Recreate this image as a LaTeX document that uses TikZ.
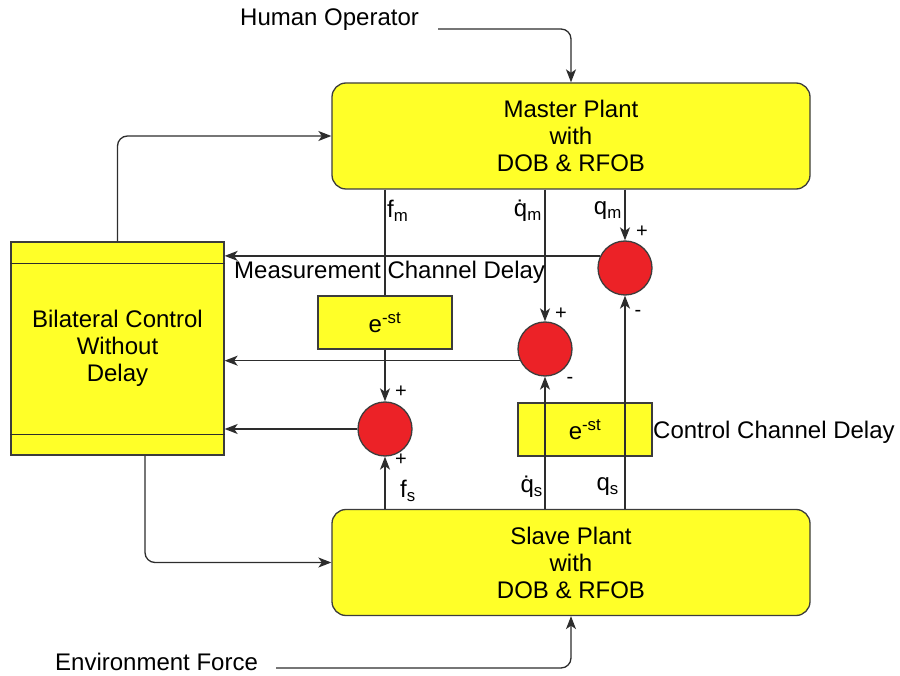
\documentclass[tikz,border=0pt]{standalone}
\usepackage{fontspec}
\setmainfont{Liberation Sans}
\usetikzlibrary{arrows.meta}
\definecolor{boxfill}{RGB}{255,255,40}
\definecolor{sumfill}{RGB}{236,34,39}
\definecolor{frameclr}{RGB}{60,60,60}
\definecolor{lineclr}{RGB}{45,45,45}
\tikzset{
	plant/.style={draw=frameclr, line width=1.3pt, fill=boxfill, rounded corners=14pt, minimum width=478pt, minimum height=106pt, align=center},
	ctrl/.style={draw=frameclr, line width=1.3pt, fill=boxfill, minimum width=213pt, minimum height=213pt, align=center},
	delay/.style={draw=frameclr, line width=1.3pt, fill=boxfill, minimum width=134pt, minimum height=53pt},
	sum/.style={circle, draw=frameclr, line width=1.3pt, fill=sumfill, minimum size=54pt, inner sep=0pt},
	sig/.style={draw=lineclr, line width=1.3pt},
	arr/.style={-{Stealth[length=13pt, width=10pt, inset=3.5pt]}},
	lbl/.style={inner sep=2pt},
	sign/.style={font=\fontsize{20}{20}\selectfont, inner sep=0pt},
}
\begin{document}
\begin{tikzpicture}[x=1pt, y=-1pt, font=\fontsize{24}{27}\selectfont]
	\useasboundingbox (0,0) rectangle (900,676);
	% blocks
	\node [plant] (master) at (571,136) {Master Plant\\with\\DOB \& RFOB};
	\node [plant] (slave) at (571,562.5) {Slave Plant\\with\\DOB \& RFOB};
	\node [ctrl] (bil) at (117.5,348.5) {Bilateral Control\\Without\\Delay};
	\draw [sig] ([yshift=-22pt]bil.north west) -- ([yshift=-22pt]bil.north east);
	\draw [sig] ([yshift=21pt]bil.south west) -- ([yshift=21pt]bil.south east);
	\node [delay] (dmeas) at (385,322.5) {e\textsuperscript{-st}};
	\node [delay] (dctrl) at (585,429.5) {e\textsuperscript{-st}};
	\node [sum] (sq) at (625,268) {};
	\node [sum] (sdq) at (545,349) {};
	\node [sum] (sf) at (385,429) {};

	% outside inputs
	\node [lbl, anchor=west] (hop) at (238,20) {Human Operator};
	\coordinate (opin) at (438,29);
	\draw [sig, arr, rounded corners=10pt] (opin) -| (master.north);
	\node [lbl, anchor=west] (env) at (53,662) {Environment Force};
	\coordinate (envin) at (276,668);
	\draw [sig, arr, rounded corners=10pt] (envin) -| (slave.south);

	% bilateral controller to plants
	\draw [sig, arr, rounded corners=10pt] (bil.north) |- (master.west);
	\draw [sig, arr, rounded corners=10pt] ([xshift=27.5pt]bil.south) |- (slave.west);

	% master signals
	\draw [sig] (master.south -| dmeas) -- (dmeas.north);
	\draw [sig, arr] (dmeas.south) -- (sf.north);
	\draw [sig, arr] (master.south -| sdq) -- (sdq.north);
	\draw [sig, arr] (master.south -| sq) -- (sq.north);

	% errors back to the controller
	\draw [sig, arr] (sq.154) -- (sq.154 -| bil.east);
	\draw [sig, arr] (sdq.205) -- (sdq.205 -| bil.east);
	\draw [sig, arr] (sf.west) -- (sf.west -| bil.east);

	% slave signals
	\draw [sig, arr] (slave.north -| sf) -- (sf.south);
	\draw [sig, arr] (slave.north -| sdq) -- (sdq.south);
	\draw [sig, arr] (slave.north -| sq) -- (sq.south);

	% labels
	\node [lbl, anchor=west] (lfm) at (385,211) {f\textsubscript{m}};
	\node [lbl, anchor=east] (ldqm) at (544,211) {\.{q}\textsubscript{m}};
	\node [lbl, anchor=east] (lqm) at (624,211) {q\textsubscript{m}};
	\node [lbl, anchor=west] (lfs) at (398,491) {f\textsubscript{s}};
	\node [lbl, anchor=east] (ldqs) at (545,487) {\.{q}\textsubscript{s}};
	\node [lbl, anchor=east] (lqs) at (621,487) {q\textsubscript{s}};
	\node [lbl, anchor=west] (lmeas) at (232,272) {Measurement Channel Delay};
	\node [lbl, anchor=west] (lctrl) at (651,432) {Control Channel Delay};

	% signs
	\node [sign] (pq1) at (642,232) {+};
	\node [sign] (pq2) at (638,313) {-};
	\node [sign] (pdq1) at (561,314) {+};
	\node [sign] (pdq2) at (570,380) {-};
	\node [sign] (pf1) at (401,392) {+};
	\node [sign] (pf2) at (401,460) {+};
\end{tikzpicture}
\end{document}
